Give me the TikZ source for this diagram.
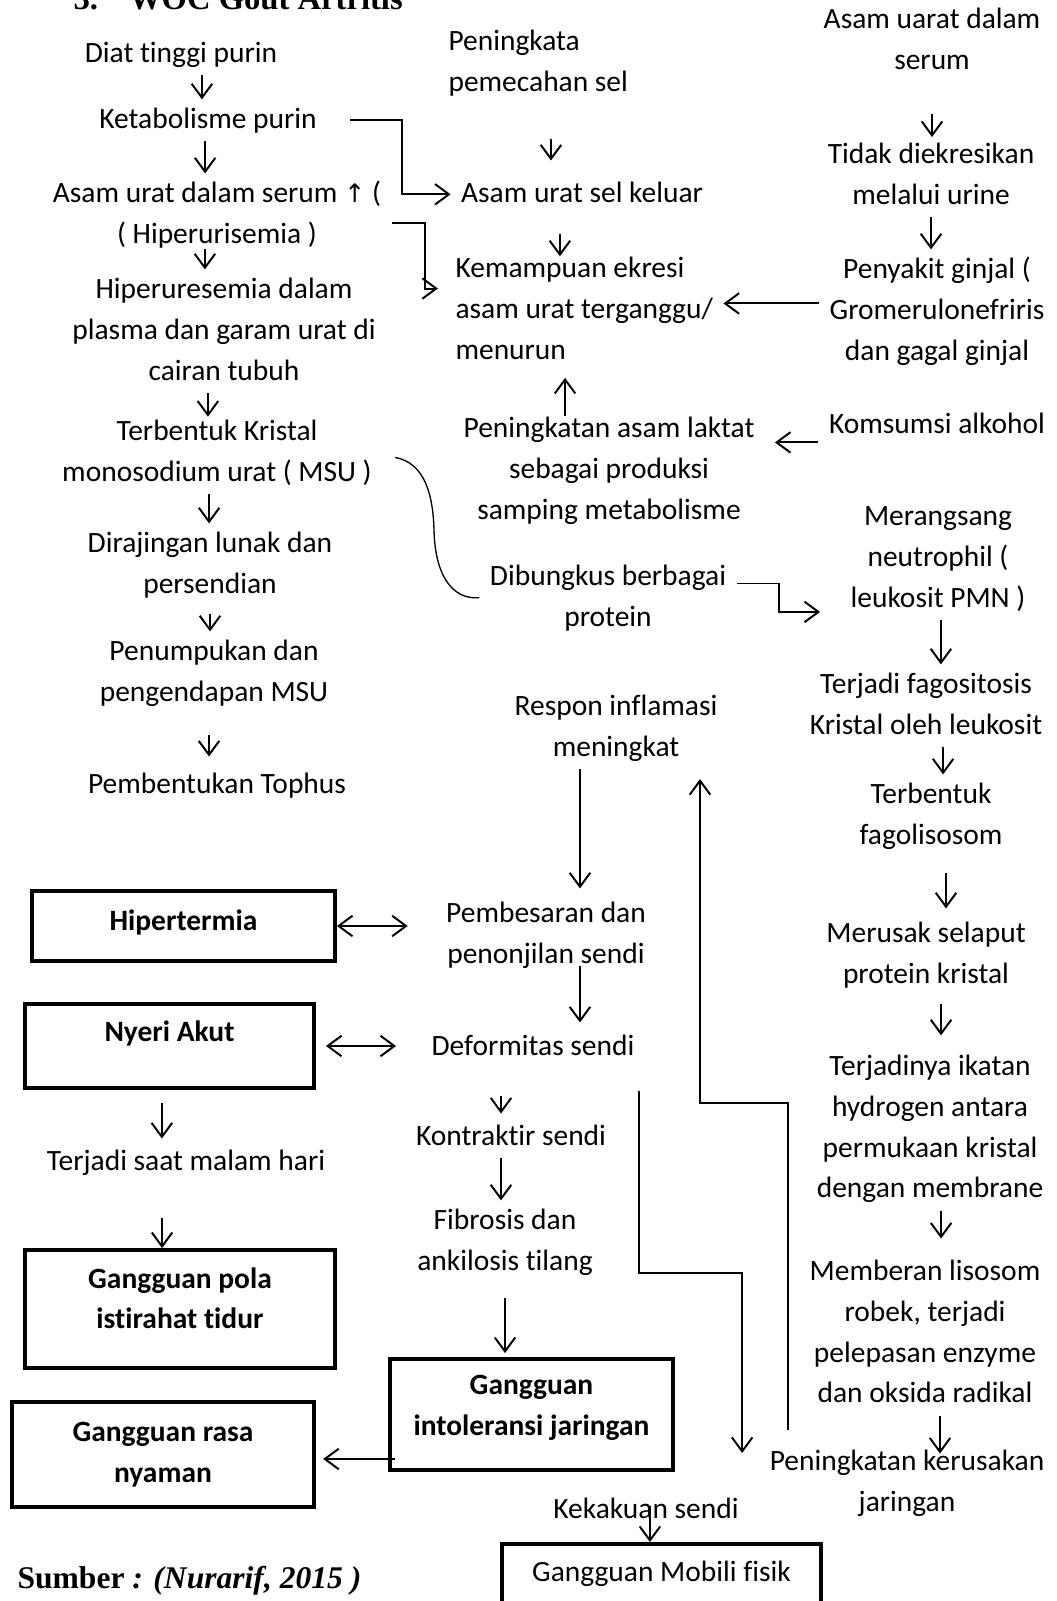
\documentclass[tikz,border=0pt]{standalone}
\usepackage{fontspec}
\setmainfont{Carlito}[Ligatures=CommonOff]
\newfontfamily\timesfont{Liberation Serif}
\newfontfamily\symfont{DejaVu Sans}
\usetikzlibrary{arrows.meta}

\newcommand{\dstrut}[1]{\strut\rule[-#1]{0pt}{#1}}

\tikzset{
  txt/.style={align=center, inner xsep=3.8pt, inner ysep=0pt, font=\fontsize{11.2}{15.5}\selectfont, execute at begin node=\strut, execute at end node=\strut},
  dxbox/.style={draw, line width=1.5pt, inner sep=0pt, align=center, font=\fontsize{11.2}{15.5}\selectfont\bfseries, execute at begin node=\strut, execute at end node={\dstrut{#1}}},
  arr/.style={->, line width=0.75pt},
  dbl/.style={<->, line width=0.75pt}
}

\begin{document}
\begin{tikzpicture}[x=0.38pt,y=0.38pt,yscale=-1,>={Straight Barb[length=5.3pt,width=7.8pt]}]
\useasboundingbox (0,0) rectangle (1056,1601);
\fill[white] (0,0) rectangle (1056,1601);

% Text Node
\node[anchor=base west, inner sep=0pt, font=\timesfont\bfseries\fontsize{12.4}{14}\selectfont] (judul) at (73,10) {3.\hspace{11.8pt}WOC Gout Artritis};

% left column
\node[txt, anchor=north] (diat) at (181,33.4) {Diat tinggi purin};
\node[txt, anchor=north] (ketab) at (208,99.4) {Ketabolisme purin};
\node[txt, anchor=north] (asam) at (217,173.4) {\strut Asam urat dalam serum {\symfont\fontsize{9.7}{15.5}\selectfont ↑} (\\( Hiperurisemia )\strut};
\node[txt, anchor=north] (hiper) at (224,269.4) {\strut Hiperuresemia dalam\\plasma dan garam urat di\\cairan tubuh\strut};
\node[txt, anchor=north] (kristal) at (217,411.4) {\strut Terbentuk Kristal\\monosodium urat ( MSU )\strut};
\node[txt, anchor=north] (lunak) at (210,523.4) {\strut Dirajingan lunak dan\\persendian\strut};
\node[txt, anchor=north] (tumpuk) at (214,631.4) {\strut Penumpukan dan\\pengendapan MSU\strut};
\node[txt, anchor=north] (tophus) at (217,764.4) {Pembentukan Tophus};

% middle column
\node[txt, anchor=north west, align=left] (pecah) at (438,21.4) {\strut Peningkata\\pemecahan sel\strut};
\node[txt, anchor=north] (selkeluar) at (582,173.4) {Asam urat sel keluar};
\node[txt, anchor=north west, align=left] (ekresi) at (445,248.4) {\strut Kemampuan ekresi\\asam urat terganggu/\\menurun\strut};
\node[txt, anchor=north] (laktat) at (609,408.4) {\strut Peningkatan asam laktat\\sebagai produksi\\samping metabolisme\strut};
\node[txt, anchor=north] (bungkus) at (608,556.4) {\strut Dibungkus berbagai\\protein\strut};
\node[txt, anchor=north] (respon) at (616,686.4) {\strut Respon inflamasi\\meningkat\strut};
\node[txt, anchor=north] (besar) at (546,893.4) {\strut Pembesaran dan\\penonjilan sendi\strut};
\node[txt, anchor=north] (deform) at (533,1026.4) {Deformitas sendi};
\node[txt, anchor=north] (kontr) at (511,1116.4) {Kontraktir sendi};
\node[txt, anchor=north] (fibrosis) at (505,1200.4) {\strut Fibrosis dan\\ankilosis tilang\strut};
\node[txt, anchor=north] (malam) at (186,1141.4) {Terjadi saat malam hari};
\node[txt, anchor=north] (kaku) at (646,1489.4) {Kekakuan sendi};

% right column
\node[txt, anchor=north] (serum) at (932,-0.6) {\strut Asam uarat dalam\\serum\strut};
\node[txt, anchor=north] (urine) at (931,134.4) {\strut Tidak diekresikan\\melalui urine\strut};
\node[txt, anchor=north] (ginjal) at (937,249.4) {\strut Penyakit ginjal (\\Gromerulonefriris\\dan gagal ginjal\strut};
\node[txt, anchor=north] (alkohol) at (937,404.4) {Komsumsi alkohol};
\node[txt, anchor=north] (neutro) at (938,496.4) {\strut Merangsang\\neutrophil (\\leukosit PMN )\strut};
\node[txt, anchor=north] (fago) at (926,664.4) {\strut Terjadi fagositosis\\Kristal oleh leukosit\strut};
\node[txt, anchor=north] (lisosom) at (931,774.4) {\strut Terbentuk\\fagolisosom\strut};
\node[txt, anchor=north] (selaput) at (926,913.4) {\strut Merusak selaput\\protein kristal\strut};
\node[txt, anchor=north] (ikatan) at (930,1046.4) {\strut Terjadinya ikatan\\hydrogen antara\\permukaan kristal\\dengan membrane\strut};
\node[txt, anchor=north] (robek) at (925,1251.4) {\strut Memberan lisosom\\robek, terjadi\\pelepasan enzyme\\dan oksida radikal\strut};
\node[txt, anchor=north] (rusak) at (907,1441.4) {\strut Peningkatan kerusakan\\jaringan\strut};

% diagnosis boxes
\node[dxbox=7.8pt, minimum width=115.1pt, minimum height=26.6pt] (hipert) at (183.5,926) {Hipertermia};
\node[dxbox=13.9pt, minimum width=109.8pt, minimum height=31.9pt] (nyeri) at (169.5,1046) {Nyeri Akut};
\node[dxbox=0pt, minimum width=117.8pt, minimum height=44.8pt] (pola) at (180,1309) {\strut Gangguan pola\\istirahat tidur\dstrut{11.3pt}};
\node[dxbox=0pt, minimum width=107.5pt, minimum height=42.2pt] (intol) at (531.5,1414.5) {\strut Gangguan\\intoleransi jaringan\dstrut{10.2pt}};
\node[dxbox=0pt, minimum width=114.8pt, minimum height=39.9pt] (nyaman) at (163,1454.5) {\strut Gangguan rasa\\nyaman\dstrut{4.9pt}};
\node[dxbox=18.5pt, minimum width=121.2pt, minimum height=36.5pt, font=\fontsize{11.2}{15.5}\selectfont] (mobili) at (661.5,1592) {Gangguan Mobili fisik};

% Text Node
\node[anchor=base west, inner sep=0pt, font=\timesfont\bfseries\fontsize{12}{14}\selectfont] (sumber) at (17,1588) {Sumber \textit{: (Nurarif, 2015 )}};

% left chain
\draw[arr] ([xshift=-2.3pt]ketab.north |- diat.south) -- ([xshift=-2.3pt]ketab.north);
\draw[arr] ([xshift=-1.1pt]ketab.south) -- ([xshift=-1.1pt]ketab.south |- asam.north);
\draw[arr, shorten <=-2.5pt] ([xshift=-4.6pt]asam.south) -- ([xshift=-4.6pt]asam.south |- hiper.north);
\draw[arr, shorten >=-2pt] ([xshift=-6.1pt]hiper.south) -- ([xshift=-6.1pt]hiper.south |- kristal.north);
\draw[arr] ([xshift=-3pt]kristal.south) -- ([xshift=-3pt]kristal.south |- lunak.north);
\draw[arr, shorten <=3pt] (lunak.south) -- (lunak.south |- tumpuk.north);
\draw[arr, shorten <=8pt, shorten >=3pt] ([xshift=-1.9pt]tumpuk.south) -- ([xshift=-1.9pt]tumpuk.south |- tophus.north);

% middle top
\draw[arr, shorten <=13.3pt, shorten >=4.9pt] ([xshift=-11.8pt]selkeluar.north |- pecah.south) -- ([xshift=-11.8pt]selkeluar.north);
\draw[arr, shorten <=7.2pt, shorten >=-3pt] ([xshift=-8.4pt]selkeluar.south) -- ([xshift=-8.4pt]selkeluar.south |- ekresi.north);
\draw[arr] ([xshift=8.7pt]ketab.east) -- ++(52,0) |- (selkeluar.west);
\draw[arr, shorten >=2.7pt] ([yshift=3.3pt]asam.east) -- ++(33,0) |- ([yshift=-8.2pt]ekresi.west);
\draw[arr] ([yshift=-2.9pt]ginjal.west) -- ([yshift=-2.9pt]ginjal.west -| ekresi.east);
\draw[arr, shorten <=-2.7pt, shorten >=2.3pt] ([xshift=-16.7pt]laktat.north) -- ([xshift=-16.7pt]laktat.north |- ekresi.south);
\draw[arr, shorten >=3.8pt] ([yshift=6.5pt]alkohol.west) -- ([yshift=6.5pt]alkohol.west -| laktat.east);

% right chain
\draw[arr, shorten <=12pt, shorten >=-1pt] (serum.south) -- (serum.south |- urine.north);
\draw[arr] (urine.south) -- (urine.south |- ginjal.north);
\draw[arr] ([xshift=1.1pt]neutro.south) -- ([xshift=1.1pt]neutro.south |- fago.north);
\draw[arr] ([xshift=6.5pt]fago.south) -- ([xshift=6.5pt]fago.south |- lisosom.north);
\draw[arr, shorten <=6.1pt, shorten >=1.9pt] ([xshift=5.7pt]lisosom.south) -- ([xshift=5.7pt]lisosom.south |- selaput.north);
\draw[arr, shorten <=3pt, shorten >=4.2pt] ([xshift=5.7pt]selaput.south) -- ([xshift=5.7pt]selaput.south |- ikatan.north);
\draw[arr, shorten >=4.9pt] ([xshift=4.2pt]ikatan.south) -- ([xshift=4.2pt]ikatan.south |- robek.north);
\draw[arr, shorten >=-4.6pt] ([xshift=5.7pt]robek.south) -- ([xshift=5.7pt]robek.south |- rusak.north);
\draw[arr] ([yshift=-5.4pt]bungkus.east) -- ++(42,0) |- ([xshift=-7.6pt,yshift=-3pt]neutro.south west);

%Curve Lines
\draw[line width=0.5pt] ([xshift=4.9pt,yshift=1.8pt]kristal.east) .. controls (425,463) and (433,495) .. (434,530) .. controls (435,575) and (452,600) .. (bungkus.west);

% lower part
\draw[arr, shorten >=1.9pt] ([xshift=-13.7pt]respon.south) -- ([xshift=-13.7pt]respon.south |- besar.north);
\draw[arr, shorten <=-3.8pt, shorten >=1.5pt] ([xshift=12.9pt]besar.south) -- ([xshift=12.9pt]besar.south |- deform.north);
\draw[dbl, shorten >=10.6pt] (hipert.east) -- (hipert.east -| besar.west);
\draw[dbl, shorten <=3.8pt, shorten >=9.5pt] (nyeri.east) -- (nyeri.east -| deform.west);
\draw[arr, shorten <=10.6pt, shorten >=1.1pt] ([xshift=-3.8pt]kontr.north |- deform.south) -- ([xshift=-3.8pt]kontr.north);
\draw[arr] ([xshift=-3.8pt]kontr.south) -- ([xshift=-3.8pt]kontr.south |- fibrosis.north);
\draw[arr, shorten <=5.7pt, shorten >=1.5pt] (fibrosis.south) -- (fibrosis.south |- intol.north);
\draw[arr, shorten <=-2.7pt, shorten >=2.7pt] ([yshift=16.9pt]intol.west) -- ([yshift=16.9pt]intol.west -| nyaman.east);
\draw[arr, shorten <=4.9pt, shorten >=1.1pt] ([xshift=-2.9pt]nyeri.south) -- ([xshift=-2.9pt]nyeri.south |- malam.north);
\draw[arr, shorten <=13.3pt] ([xshift=-9.1pt]malam.south) -- ([xshift=-9.1pt]malam.south |- pola.north);
\draw[arr, shorten <=-9.5pt] ([xshift=1.5pt]kaku.south) -- ([xshift=1.5pt]kaku.south |- mobili.north);
\draw[arr] ([xshift=-2.3pt,yshift=8.7pt]deform.south east) -- ++(0,182) -| ([xshift=-6.5pt,yshift=4.4pt]rusak.north west);
\draw[arr] ([xshift=11pt,yshift=-4.3pt]rusak.north west) -- ++(0,-327) -| ([xshift=-10.6pt,yshift=3.8pt]respon.south east);

\end{tikzpicture}
\end{document}
